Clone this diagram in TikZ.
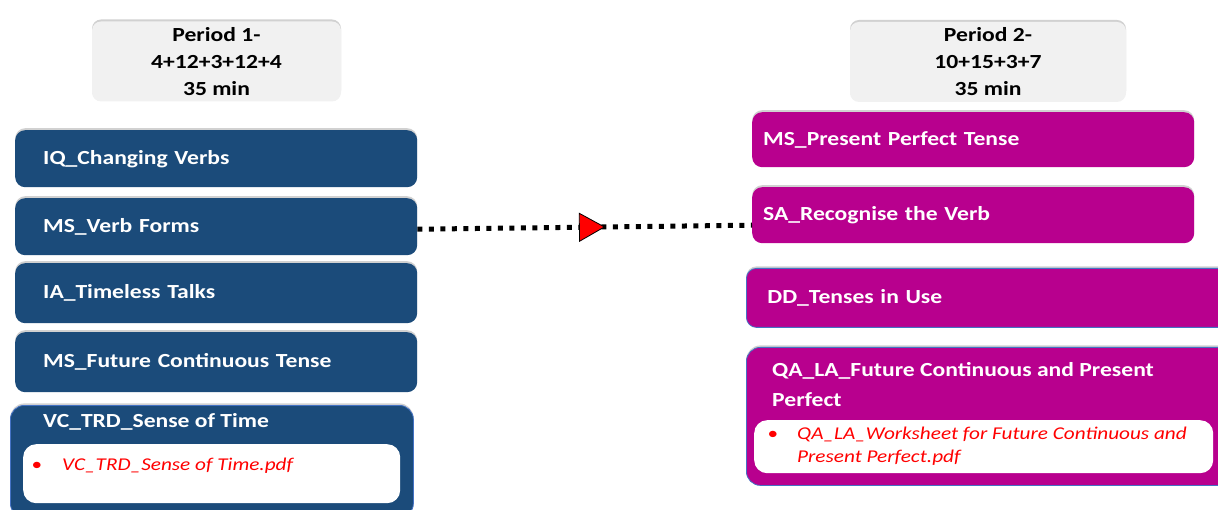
\documentclass[tikz,border=0pt]{standalone}
\usepackage{fontspec}
\setmainfont{Carlito}[FakeStretch=1.18]
\usetikzlibrary{shadows,decorations.markings}
\definecolor{boxblue}{RGB}{27,75,122}
\definecolor{boxmag}{RGB}{184,0,142}
\definecolor{hdrgray}{RGB}{241,241,241}
\definecolor{linkred}{RGB}{255,0,0}
\definecolor{rimblue}{RGB}{68,114,196}
\begin{document}
\begin{tikzpicture}[x=1pt,y=-1pt,
  softshadow/.style={drop shadow={shadow xshift=0pt,shadow yshift=2pt,opacity=0.3,fill=black!60}},
  hdr/.style={fill=hdrgray, rounded corners=9pt, softshadow, align=center, text=black,
    font=\bfseries\fontsize{20}{27}\selectfont, inner sep=0pt},
  item/.style={rounded corners=10pt, softshadow, anchor=north west, text=white,
    font=\bfseries\fontsize{20}{24}\selectfont, align=left, inner ysep=0pt},
  leftitem/.style={item, fill=boxblue, inner xsep=28pt, text width=346pt},
  rightitem/.style={item, fill=boxmag, inner xsep=11pt, text width=420pt},
  shell/.style={rounded corners=14pt, softshadow, anchor=north west, inner sep=0pt, draw=rimblue, line width=0.8pt},
  titletext/.style={text=white, font=\bfseries\fontsize{20}{30}\selectfont, align=left, anchor=west, inner sep=0pt},
  linkbox/.style={fill=white, rounded corners=13pt, anchor=north west, inner sep=0pt},
  bullettext/.style={text=linkred, font=\fontsize{18}{23}\selectfont, anchor=center, inner sep=0pt},
  linktext/.style={text=linkred, font=\itshape\fontsize{18}{23}\selectfont, align=left, anchor=west, inner sep=0pt},
  linkline/.style={line width=5pt, dash pattern=on 5pt off 6.5pt, black,
    postaction={decorate}, decoration={markings,
      mark=at position 0.52 with {\draw[solid, fill=red, draw=black, line width=0.8pt] (-12,-14) -- (13,0) -- (-12,14) -- cycle;}}}
]
\path[use as bounding box] (0,0) rectangle (1218,510);
\clip (0,0) rectangle (1218,510);

% period headers
\node[hdr, minimum width=249pt, minimum height=80pt] (hdrA) at (216.5,61.5) {Period 1-\\4+12+3+12+4\\35 min};
\node[hdr, minimum width=276pt, minimum height=80pt] (hdrB) at (988,62) {Period 2-\\10+15+3+7\\35 min};

% period 1 activities
\node[leftitem, minimum height=57pt] (iq) at (15,130) {IQ\_Changing Verbs};
\node[leftitem, minimum height=57pt] (msverb) at (15,198) {MS\_Verb Forms};
\node[leftitem, minimum height=60pt] (ia) at (15,263) {IA\_Timeless Talks};
\node[leftitem, minimum height=60pt] (msfut) at (15,332) {MS\_Future Continuous Tense};
\node[shell, fill=boxblue, minimum width=403pt, minimum height=112pt] (vc) at (10,405) {};
\node[titletext] (vctitle) at (43,422) {VC\_TRD\_Sense of Time};
\node[linkbox, minimum width=377pt, minimum height=59pt] (vcres) at (23,444) {};
\node[bullettext] (vcdot) at (37,466) {\textbullet};
\node[linktext] (vclink) at (62,466) {VC\_TRD\_Sense of Time.pdf};

% period 2 activities
\node[rightitem, minimum height=55pt] (mspp) at (752,112) {MS\_Present Perfect Tense};
\node[rightitem, minimum height=56pt] (sa) at (752,187) {SA\_Recognise the Verb};
\node[item, fill=boxmag, draw=rimblue, line width=0.8pt, inner xsep=21pt, text width=458pt, minimum height=59pt] (dd) at (746,268) {DD\_Tenses in Use};
\node[shell, fill=boxmag, minimum width=500pt, minimum height=138pt] (qa) at (746,347) {};
\node[titletext] (qatitle) at (772,385) {QA\_LA\_Future Continuous and Present\\Perfect};
\node[linkbox, minimum width=459pt, minimum height=53pt] (qares) at (754,420) {};
\node[bullettext] (qadot) at (773,435) {\textbullet};
\node[linktext] (qalink) at (797,446.5) {QA\_LA\_Worksheet for Future Continuous and\\Present Perfect.pdf};

% link between the two periods
\draw[linkline] ([yshift=-2.5pt]msverb.east) -- ([yshift=-10pt]sa.west);
\end{tikzpicture}
\end{document}
